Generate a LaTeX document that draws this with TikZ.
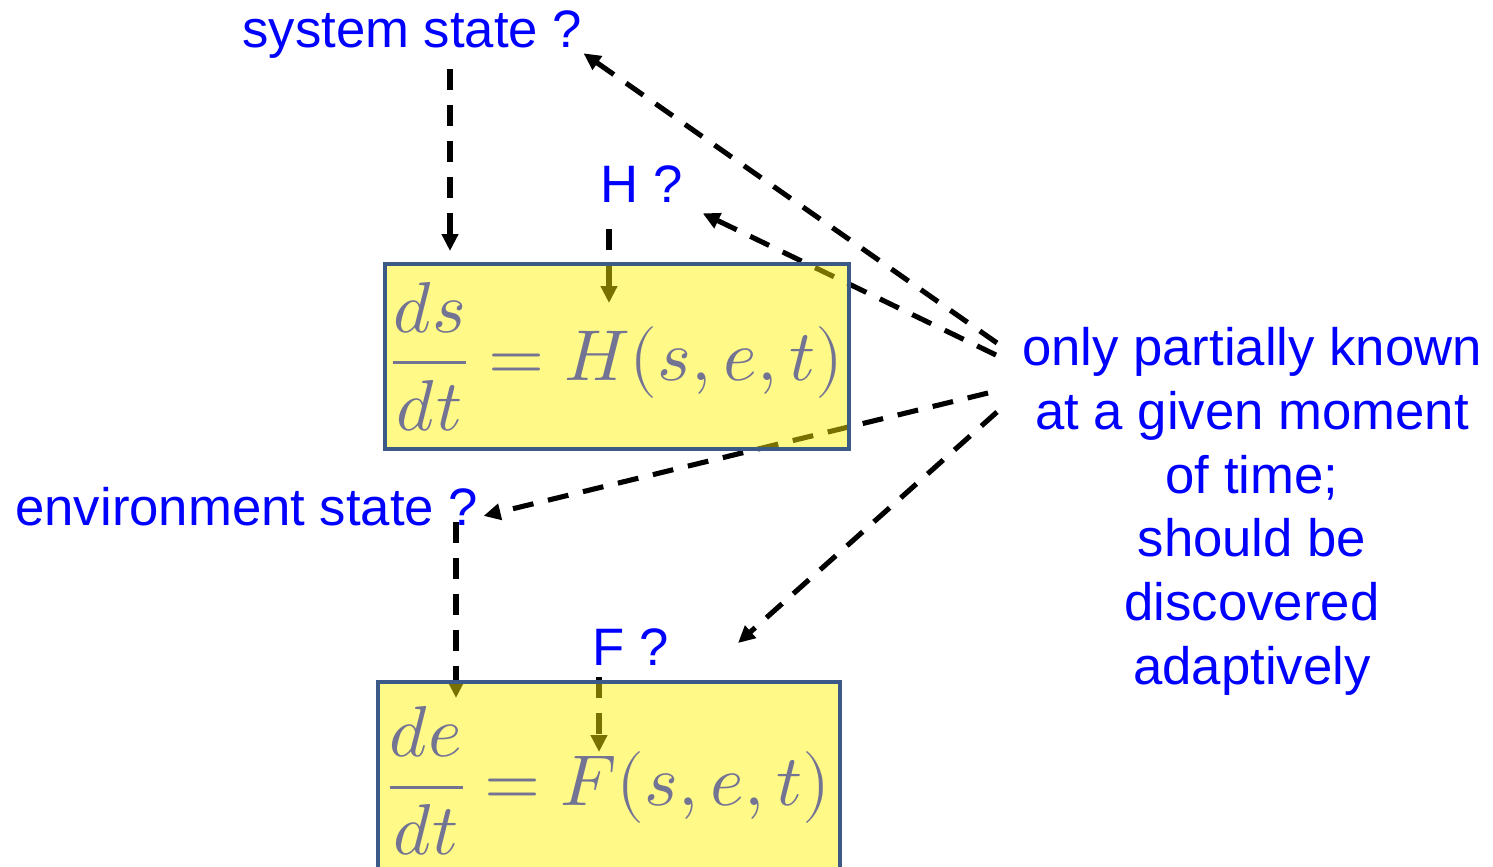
\documentclass[tikz,border=0pt]{standalone}
\usepackage{amsmath}
\usepackage{fontspec}
\usepackage{unicode-math}
\setmainfont{Liberation Sans}
\setmathfont{Latin Modern Math}
\usepackage{tikz}
\usetikzlibrary{arrows.meta, backgrounds}
\definecolor{labelblue}{RGB}{0, 0, 255}
\definecolor{boxedge}{RGB}{60, 90, 135}
\definecolor{eqgray}{RGB}{115, 115, 148}

\begin{document}
\begin{tikzpicture}[
    x=0.02cm, y=-0.02cm,
    qlabel/.style={inner sep=0, anchor=base west, text=labelblue, font=\fontsize{30}{36}\selectfont},
    eqbox/.style={draw=boxedge, line width=2.3pt, fill=yellow, fill opacity=0.47, text opacity=1, text=eqgray, minimum width=9.24cm, font=\fontsize{41}{48}\selectfont},
    guess/.style={line width=2.9pt, dash pattern=on 0.42cm off 0.3cm, -{Triangle[length=0.34cm, width=0.32cm]}}
]
\useasboundingbox (0,0) rectangle (1493,866);

% Labels
\node[qlabel] (sys) at (242,47) {system state ?};
\node[qlabel] (hq) at (600,202) {H ?};
\node[qlabel] (env) at (15,525) {environment state ?};
\node[qlabel] (fq) at (592,665) {F ?};
\node[inner sep=0, anchor=north, align=center, text=labelblue, font=\fontsize{30}{36.3}\selectfont] (known) at (1252,327)
    {only partially known\\at a given moment\\of time;\\should be\\discovered\\adaptively};

% Equation boxes
\node[eqbox, minimum height=3.7cm] (hbox) at (617,356.5) {$\dfrac{ds}{dt}=H(s,e,t)$};
\node[eqbox, minimum height=3.96cm] (fbox) at (609,781) {$\dfrac{de}{dt}=F(s,e,t)$};

% Fan points left of the note
\coordinate (fan1) at (997,343);
\coordinate (fan2) at (996,355);
\coordinate (fan3) at (988,393);
\coordinate (fan4) at (997,412);
\coordinate (fhint) at (738,643);

% Drop points
\coordinate (sysdrop) at (450,69);
\coordinate (systip) at (450,251);
\coordinate (hdrop) at (609,229);
\coordinate (htip) at (609,303);
\coordinate (envdrop) at (456,522);
\coordinate (envtip) at (456,698);
\coordinate (fdrop) at (599,677);
\coordinate (ftip) at (599,752);

% Arrows (under the boxes)
\begin{scope}[on background layer]
    \draw[guess] (sysdrop) -- (systip);
    \draw[guess] (hdrop) -- (htip);
    \draw[guess] (envdrop) -- (envtip);
    \draw[guess] (fdrop) -- (ftip);
    \draw[guess] (fan1) -- ([shift={(1,-5)}]sys.south east);
    \draw[guess] (fan2) -- ([shift={(20,11)}]hq.south east);
    \draw[guess] (fan3) -- ([shift={(5,-10)}]env.south east);
    \draw[guess] (fan4) -- (fhint);
\end{scope}
\end{tikzpicture}
\end{document}
